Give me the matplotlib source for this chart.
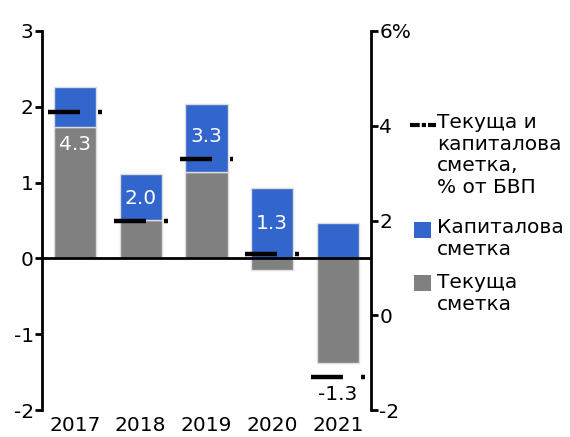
import matplotlib
matplotlib.use("Agg")
import matplotlib.pyplot as plt
import numpy as np
from matplotlib.lines import Line2D
from matplotlib.patches import Rectangle

plt.rcParams['font.family'] = ['DejaVu Sans']
plt.rcParams['lines.scale_dashes'] = False
plt.rcParams['axes.unicode_minus'] = False

years = ["2017", "2018", "2019", "2020", "2021"]
current = [1.73, 0.51, 1.14, -0.15, -1.38]      # Текуща сметка (left axis)
capital = [0.53, 0.61, 0.90, 0.93, 0.47]        # Капиталова сметка (left axis)
total_pct = [4.3, 2.0, 3.3, 1.3, -1.3]          # % от БВП (right axis)
label_text = ["4.3", "2.0", "3.3", "1.3", "-1.3"]
legend_labels = ["Текуща и\nкапиталова\nсметка,\n% от БВП", "Капиталова\nсметка", "Текуща\nсметка"]

blue = "#3366cc"
grey = "#808080"
fs = 14.5

W, H = 570, 437
fig = plt.figure(figsize=(5.7, 4.37), dpi=100)
ax = fig.add_axes([42/W, 1-410/H, (371-42)/W, (410-31)/H])
ax2 = ax.twinx()

x = np.arange(len(years))
w = 0.64
cur = np.array(current)
cap = np.array(capital)
cap_bottom = np.where(cur > 0, cur, 0)
ax.bar(x, cur, w, color=grey, edgecolor="#dddddd", linewidth=1, zorder=2)
ax.bar(x, cap, w, bottom=cap_bottom, color=blue, edgecolor="#dddddd", linewidth=1, zorder=2)
ax.axhline(0, color="black", lw=2, zorder=3)

ax.set_xlim(-0.5, 4.5)
ax.set_ylim(-2, 3)
ax.set_yticks([-2, -1, 0, 1, 2, 3])
ax.set_xticks(x)
ax.set_xticklabels(years)
ax2.set_ylim(-2, 6)
ax2.set_yticks([-2, 0, 2, 4, 6])
ax2.set_yticklabels(["-2", "0", "2", "4", "6%"])

for a in (ax, ax2):
    for s in ("top", "bottom"):
        a.spines[s].set_visible(False)
    a.tick_params(labelsize=fs, width=2, length=5, pad=1)
ax.spines["left"].set_linewidth(2)
ax.spines["right"].set_visible(False)
ax2.spines["left"].set_visible(False)
ax2.spines["right"].set_linewidth(2)
ax.tick_params(axis="x", length=0, pad=4)

# total markers on right axis
for xi, v in zip(x, total_pct):
    ax2.plot([xi - 0.41, xi + 0.41], [v, v], color="black", lw=3.2,
             dashes=(23, 13, 3, 30), dash_capstyle="butt", zorder=5)

# value labels (offsets in points from marker)
offsets = [-24, 16, 16, 22, -13]
for xi, v, t, off in zip(x, total_pct, label_text, offsets):
    col = "black" if v < 0 else "white"
    ax2.annotate(t, (xi, v), xytext=(0, off), textcoords="offset points",
                 ha="center", va="center", fontsize=fs, color=col, zorder=6)

# legend, handles aligned with the first line of each label
fig.add_artist(Line2D([410/W, 436/W], [1-125/H, 1-125/H], color="black", lw=3,
                      dashes=(7, 1.5, 3, 1.5), dash_capstyle="butt"))
fig.add_artist(Rectangle((414/W, 1-238/H), 17/W, 16/H, facecolor=blue, edgecolor="none"))
fig.add_artist(Rectangle((414/W, 1-291/H), 17/W, 16/H, facecolor=grey, edgecolor="none"))
for ytop, lab in zip([113, 218, 273], legend_labels):
    fig.text(437/W, 1-ytop/H, lab, fontsize=fs, va="top", ha="left", linespacing=1.18)

fig.savefig("out.png", dpi=100)
